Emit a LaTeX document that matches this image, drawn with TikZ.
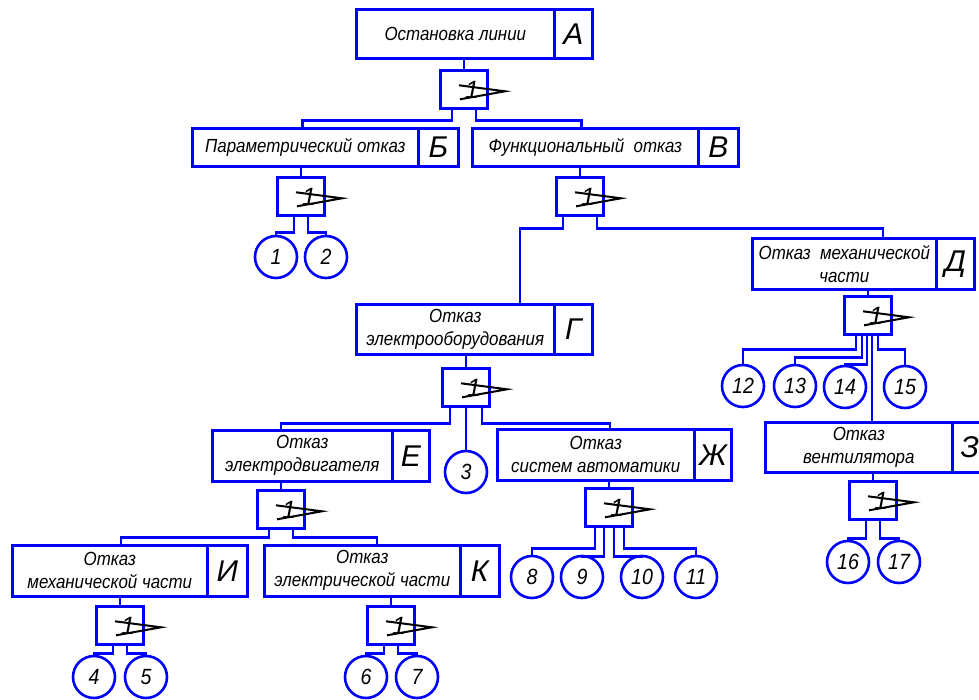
\documentclass[tikz,border=0pt]{standalone}
\usepackage{fontspec}
\setmainfont{Liberation Sans}
\newfontfamily\narrowfont[FakeStretch=0.89]{Liberation Sans}
\usetikzlibrary{calc}

% failure box: name, x1, y1, x of divider, x2, y2, description, letter
\newcommand\failbox[8]{%
  \node[cell, minimum width={#4-#2}, minimum height={#6-#3}] (#1) at (#2,#3) {#7};
  \node[lettercell, minimum width={#5-#4}, minimum height={#6-#3}] (#1l) at (#4,#3) {#8};
}
% OR gate: name, centre x, top y
\newcommand\orgate[3]{%
  \node[gatebox] (#1) at (#2,#3) {};
  \node[gatenum] (#1n) at ([xshift=8pt,yshift=-1pt]#1.center) {1};
  \draw[gatemark] ([shift={(-5pt,4pt)}]#1.center) -- ([shift={(41pt,-2pt)}]#1.center)
                  -- ([shift={(-4pt,-10pt)}]#1.center);
}

\begin{document}
\begin{tikzpicture}[x=1pt, y=-1pt,
  wire/.style={draw=blue, line width=2.6pt},
  cell/.style={draw=blue, line width=2.6pt, rectangle, inner sep=0pt, anchor=north west,
    align=center, font=\narrowfont\itshape\fontsize{19}{23}\selectfont},
  lettercell/.style={draw=blue, line width=2.6pt, rectangle, inner sep=0pt, anchor=north west,
    font=\itshape\fontsize{30}{30}\selectfont},
  gatebox/.style={draw=blue, line width=2.6pt, rectangle, inner sep=0pt, anchor=north,
    minimum width=47pt, minimum height=38pt},
  gatenum/.style={inner sep=0pt, font=\itshape\fontsize{25}{25}\selectfont},
  gatemark/.style={draw=black, line width=2pt, line join=miter},
  event/.style={draw=blue, line width=2.6pt, circle, inner sep=0pt, minimum size=42pt,
    font=\narrowfont\itshape\fontsize{22}{22}\selectfont},
]
\useasboundingbox (0,0) rectangle (979,700);
\clip (0,0) rectangle (979,700);

% boxes
\failbox{A}{355}{8}{553}{591}{57}{Остановка линии}{А}
\failbox{B}{191}{127}{417}{457}{165}{Параметрический отказ}{Б}
\failbox{V}{471}{127}{697}{737}{165}{Функциональный\ \ отказ}{В}
\failbox{G}{355}{303}{553}{591}{353}{Отказ\\электрооборудования}{Г}
\failbox{D}{751}{237}{935}{973}{288}{Отказ\ \ механической\\части}{Д}
\failbox{E}{211}{429}{391}{428}{480}{Отказ\\электродвигателя}{Е}
\failbox{Zh}{496}{428}{693}{730}{479}{Отказ\\систем автоматики}{Ж}
\failbox{Z}{764}{421}{951}{986}{471}{Отказ\\вентилятора}{З}
\failbox{I}{11}{544}{206}{246}{595}{Отказ\\механической части}{И}
\failbox{K}{263}{544}{459}{498}{595}{Отказ\\электрической части}{К}

% gates
\orgate{gA}{464}{69}
\orgate{gB}{301}{176}
\orgate{gV}{580}{176}
\orgate{gG}{466}{367}
\orgate{gD}{868}{295}
\orgate{gE}{281}{489}
\orgate{gZh}{609}{487}
\orgate{gZ}{873}{480}
\orgate{gI}{120}{605}
\orgate{gK}{391}{605}

% basic events
\node[event] (c1) at (276,257) {1};
\node[event] (c2) at (326,257) {2};
\node[event] (c3) at (466,472) {3};
\node[event] (c4) at (94,677) {4};
\node[event] (c5) at (146,677) {5};
\node[event] (c6) at (366,677) {6};
\node[event] (c7) at (417,677) {7};
\node[event] (c8) at (532,577) {8};
\node[event] (c9) at (582,577) {9};
\node[event] (c10) at (642,577) {10};
\node[event] (c11) at (696,577) {11};
\node[event] (c12) at (743,386) {12};
\node[event] (c13) at (795,386) {13};
\node[event] (c14) at (845,387) {14};
\node[event] (c15) at (905,387) {15};
\node[event] (c16) at (848,562) {16};
\node[event] (c17) at (899,562) {17};

% box to gate stems
\foreach \g/\b in {gA/A, gB/B, gV/V, gG/G, gD/D, gE/E, gZh/Zh, gZ/Z, gI/I, gK/K}
  \draw[wire] (\g.north) -- (\g.north |- \b.south);

% gate outputs
\draw[wire] ([xshift=-12pt]gA.south) -- ++(0,11) -| ([xshift=-3pt]B.north);
\draw[wire] ([xshift=12pt]gA.south) -- ++(0,11) -| ([xshift=-4pt]V.north);

\draw[wire] ([xshift=-7pt]gB.south) -- ++(0,16) -| (c1.north);
\draw[wire] ([xshift=7pt]gB.south) -- ++(0,16) -| (c2.north);

\draw[wire] ([xshift=-17pt]gV.south) -- ++(0,12) -| ([xshift=165pt]G.north west);
\draw[wire] ([xshift=17pt]gV.south) -- ++(0,12) -| ([xshift=132pt]D.north west);

\draw[wire] ([xshift=-16pt]gG.south) -- ++(0,16) -| ([xshift=70pt]E.north west);
\draw[wire] (gG.south) -- (c3.north);
\draw[wire] ([xshift=16pt]gG.south) -- ++(0,16) -| ([xshift=114pt]Zh.north west);

\draw[wire] ([xshift=-12pt]gD.south) -- ++(0,14) -| (c12.north);
\draw[wire] ([xshift=-6pt]gD.south) -- ++(0,22) -| (c13.north);
\draw[wire] ([xshift=-1pt]gD.south) -- ++(0,29) -| (c14.north);
\draw[wire] ([xshift=4pt]gD.south) -- ([xshift=4pt]gD.south |- Z.north);
\draw[wire] ([xshift=10pt]gD.south) -- ++(0,14) -| (c15.north);

\draw[wire] ([xshift=-12pt]gE.south) -- ++(0,8) -| ([xshift=110pt]I.north west);
\draw[wire] ([xshift=12pt]gE.south) -- ++(0,8) -| ([xshift=114pt]K.north west);

\draw[wire] ([xshift=-14pt]gZh.south) -- ++(0,21) -| (c8.north);
\draw[wire] ([xshift=-5pt]gZh.south) -- ++(0,29) -| (c9.north);
\draw[wire] ([xshift=5pt]gZh.south) -- ++(0,29) -| (c10.north);
\draw[wire] ([xshift=15pt]gZh.south) -- ++(0,21) -| (c11.north);

\draw[wire] ([xshift=-7pt]gZ.south) -- ++(0,18) -| (c16.north);
\draw[wire] ([xshift=7pt]gZ.south) -- ++(0,18) -| (c17.north);

\draw[wire] ([xshift=-7pt]gI.south) -- ++(0,8) -| (c4.north);
\draw[wire] ([xshift=7pt]gI.south) -- ++(0,8) -| (c5.north);

\draw[wire] ([xshift=-7pt]gK.south) -- ++(0,8) -| (c6.north);
\draw[wire] ([xshift=7pt]gK.south) -- ++(0,8) -| (c7.north);
\end{tikzpicture}
\end{document}
